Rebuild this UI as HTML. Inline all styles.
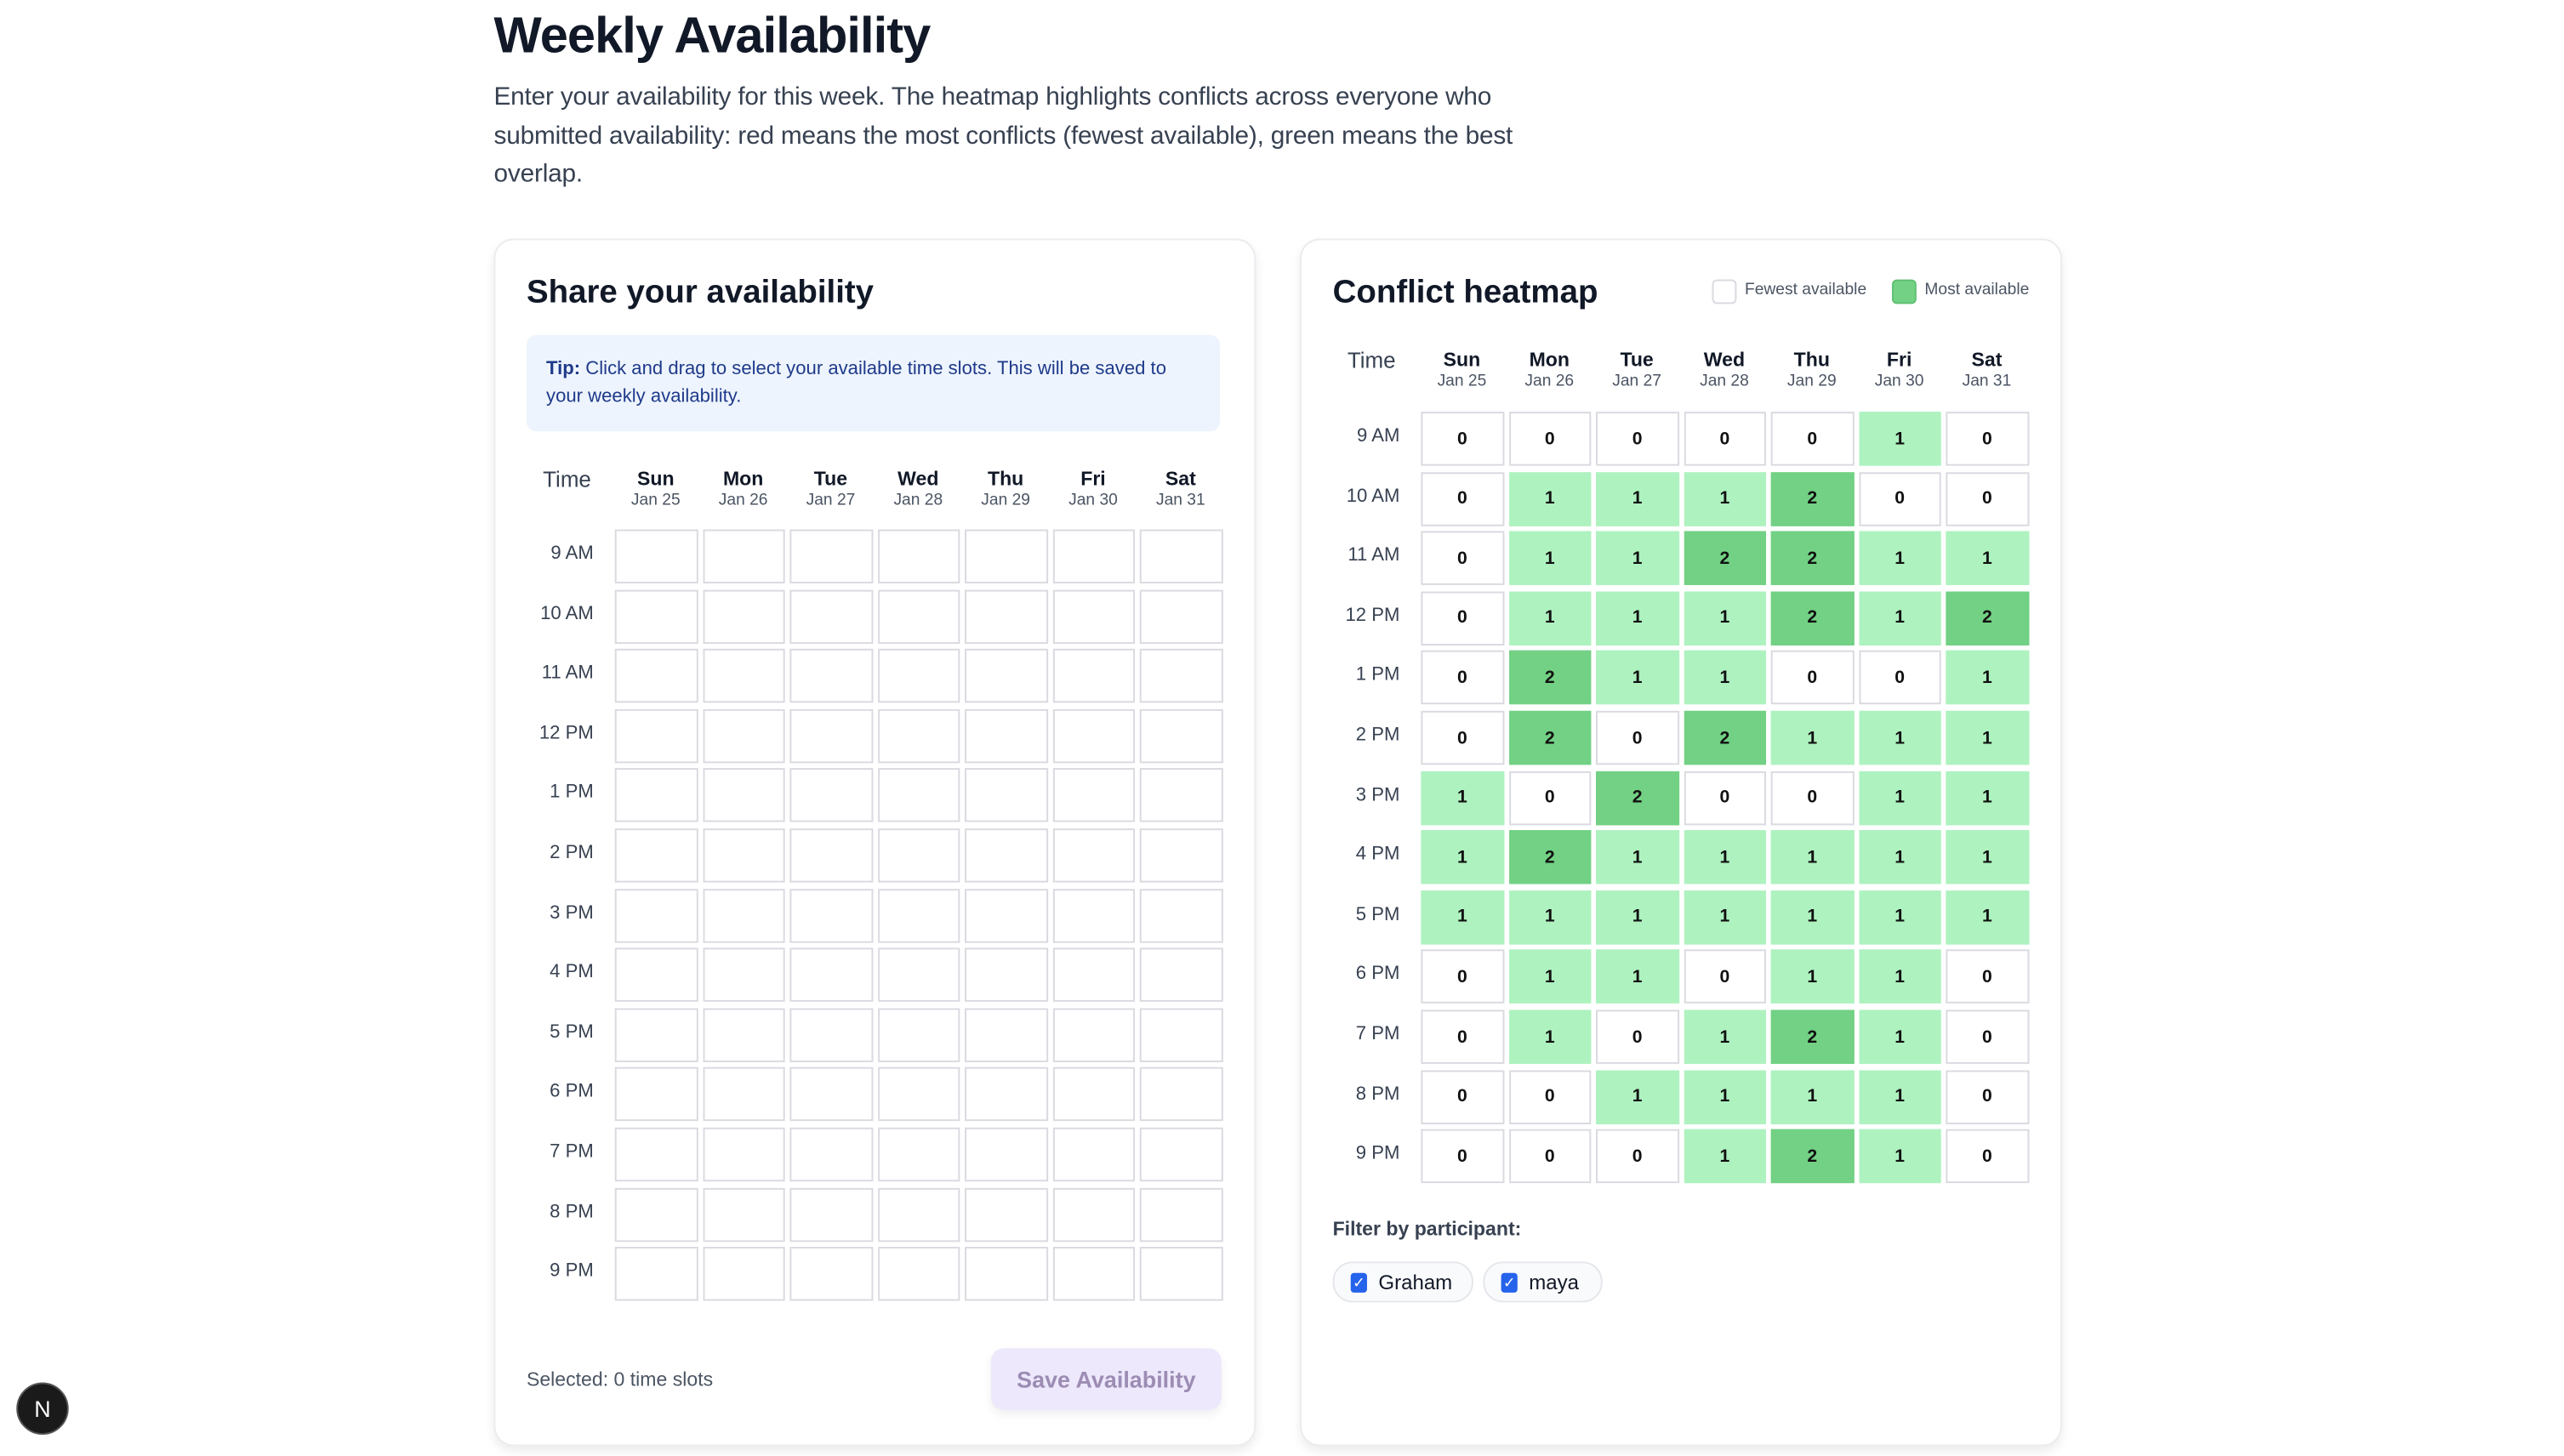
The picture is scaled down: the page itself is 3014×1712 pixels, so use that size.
<!DOCTYPE html>
<html><head><meta charset="utf-8">
<style>
html,body{margin:0;padding:0;background:#fff;overflow:hidden}
body{width:3014px;height:1712px;font-family:"Liberation Sans",sans-serif;color:#111827}
#root{position:absolute;left:0;top:0;width:1568px;height:891px;transform:scale(1.92219,1.92144);transform-origin:0 0}
.a{position:absolute}
.card{position:absolute;background:#fff;border:1px solid #ececf0;border-radius:12px;box-shadow:0 3px 6px rgba(0,0,0,0.08)}
.cell{position:absolute;box-sizing:border-box;border:1px solid #d9d9e0;background:#fff;font-size:11px;font-weight:bold;display:flex;align-items:center;justify-content:center;color:#111}
.lbl{position:absolute;font-size:11.5px;color:#374151;text-align:right;width:60px}
.dh{position:absolute;text-align:center;width:50px}
.dh b{display:block;font-size:12px;color:#111827}
.dh span{display:block;font-size:10px;color:#4b5563;margin-top:1px}
</style></head><body>
<div id="root">
<div class="a" style="left:302px;top:4px;font-size:31px;font-weight:bold;letter-spacing:-0.5px">Weekly Availability</div>
<div class="a" style="left:302px;top:48px;width:660px;font-size:15.5px;line-height:23.5px;color:#374151;letter-spacing:-0.1px">Enter your availability for this week. The heatmap highlights conflicts across everyone who submitted availability: red means the most conflicts (fewest available), green means the best overlap.</div>

<div class="card" style="left:302px;top:146px;width:464px;height:737px"></div>
<div class="a" style="left:322px;top:168px;font-size:20px;font-weight:bold">Share your availability</div>
<div class="a" style="left:322px;top:205px;width:400px;height:59px;padding:0 12px;background:#eef4fd;border-radius:6px;font-size:11.5px;line-height:17px;color:#1e3a8a;box-sizing:content-box"><div style="padding-top:13px"><b>Tip:</b> Click and drag to select your available time slots. This will be saved to your weekly availability.</div></div>
<div class="a" style="left:332px;top:286px;font-size:13.5px;color:#374151">Time</div>
<div id="selgrid"></div>
<div class="a" style="left:322px;top:837px;font-size:12px;color:#4b5563">Selected: 0 time slots</div>
<div class="a" style="left:606px;top:825px;width:141px;height:38px;background:#ede8fb;border-radius:8px;color:#9c8cb4;font-size:14px;font-weight:bold;display:flex;align-items:center;justify-content:center;box-shadow:0 3px 6px rgba(0,0,0,0.06)">Save Availability</div>

<div class="card" style="left:795px;top:146px;width:464px;height:737px"></div>
<div class="a" style="left:815px;top:168px;font-size:20px;font-weight:bold">Conflict heatmap</div>
<div class="a" style="left:1047px;top:171px;width:13px;height:13px;border:1px solid #d9d9e0;border-radius:3px;background:#fff"></div>
<div class="a" style="left:1067px;top:172px;font-size:10px;color:#4b5563">Fewest available</div>
<div class="a" style="left:1157px;top:171px;width:13px;height:13px;border:1px solid #5fbf72;border-radius:3px;background:#72d184"></div>
<div class="a" style="left:1177px;top:172px;font-size:10px;color:#4b5563">Most available</div>
<div class="a" style="left:824px;top:213px;font-size:13.5px;color:#374151">Time</div>
<div id="heat"></div>

<div class="a" style="left:815px;top:745px;font-size:12px;font-weight:bold;color:#374151">Filter by participant:</div>
<div class="a" style="left:815px;top:772px;width:84px;height:23px;border:1px solid #e5e7eb;border-radius:12px;background:#f9fafb;font-size:12.5px;display:flex;align-items:center"><span style="display:inline-block;width:10px;height:12px;background:#2563eb;border-radius:2px;margin:0 7px 0 10px;color:#fff;font-size:9px;line-height:12px;text-align:center">✓</span>Graham</div>
<div class="a" style="left:907px;top:772px;width:71px;height:23px;border:1px solid #e5e7eb;border-radius:12px;background:#f9fafb;font-size:12.5px;display:flex;align-items:center"><span style="display:inline-block;width:10px;height:12px;background:#2563eb;border-radius:2px;margin:0 7px 0 10px;color:#fff;font-size:9px;line-height:12px;text-align:center">✓</span>maya</div>

<div class="a" style="left:10px;top:846px;width:32px;height:32px;border-radius:50%;background:#1a1a1a;color:#fff;font-size:14px;display:flex;align-items:center;justify-content:center;border:1px solid #555;box-sizing:border-box">N</div>
</div>
<script>
const days=["Sun","Mon","Tue","Wed","Thu","Fri","Sat"];
const dates=["Jan 25","Jan 26","Jan 27","Jan 28","Jan 29","Jan 30","Jan 31"];
const times=["9 AM","10 AM","11 AM","12 PM","1 PM","2 PM","3 PM","4 PM","5 PM","6 PM","7 PM","8 PM","9 PM"];
const counts=[
[0,0,0,0,0,1,0],
[0,1,1,1,2,0,0],
[0,1,1,2,2,1,1],
[0,1,1,1,2,1,2],
[0,2,1,1,0,0,1],
[0,2,0,2,1,1,1],
[1,0,2,0,0,1,1],
[1,2,1,1,1,1,1],
[1,1,1,1,1,1,1],
[0,1,1,0,1,1,0],
[0,1,0,1,2,1,0],
[0,0,1,1,1,1,0],
[0,0,0,1,2,1,0]];
const colors=["#ffffff","#aef2c0","#72d184"];
function build(root,x0,y0,hy,lx,heat){
  const root2=document.getElementById(root);
  days.forEach((d,i)=>{
    const h=document.createElement('div');h.className='dh';
    
    
    h.style.left=(x0+i*53.5)+'px';h.style.top=hy+'px';
    h.innerHTML='<b>'+d+'</b><span>'+dates[i]+'</span>';
    root2.appendChild(h);
  });
  times.forEach((t,r)=>{
    const l=document.createElement('div');l.className='lbl';
    
    
    l.style.left=(lx-60)+'px';l.style.top=(y0+r*36.6+9)+'px';l.textContent=t;
    root2.appendChild(l);
    days.forEach((d,c)=>{
      const e=document.createElement('div');e.className='cell';
      
      
      e.style.left=(x0+c*53.5)+'px';e.style.top=(y0+r*36.6)+'px';
      e.style.width='50.5px';e.style.height='33px';
      if(heat){const v=counts[r][c];e.style.background=colors[v];if(v>0)e.style.borderColor=colors[v];e.textContent=v;}
      root2.appendChild(e);
    });
  });
}
build('selgrid',376,324,286,363,false);
build('heat',869,252,213,856,true);
</script>
</body></html>
